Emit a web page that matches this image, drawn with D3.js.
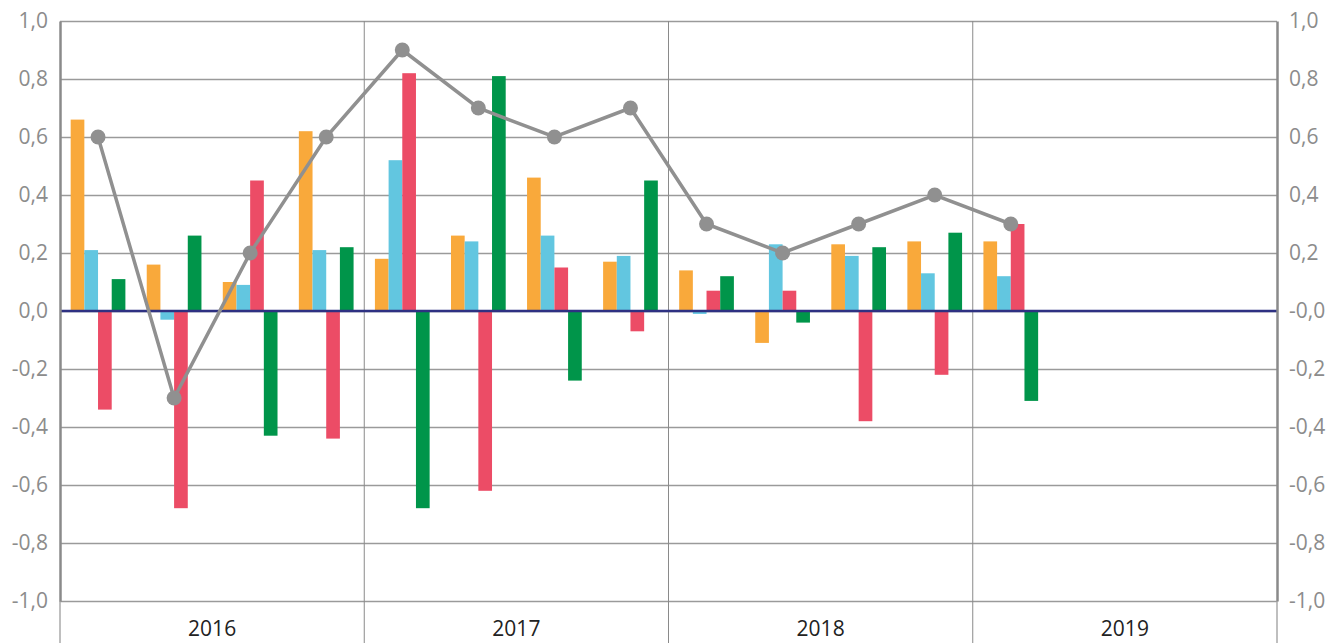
<!DOCTYPE html>
<html>
<head>
<meta charset="utf-8">
<script src="https://cdn.jsdelivr.net/npm/d3@7.9.0/dist/d3.min.js"></script>
<style>
  html, body { margin: 0; padding: 0; background: #fff; }
  svg { display: block; font-family: "Open Sans", sans-serif; }
</style>
</head>
<body>
<div id="chart"></div>
<script>
// ---------------- data ----------------
const years = ["2016", "2017", "2018", "2019"];
const quarters = d3.range(16);   // 4 quarters per year
const seriesNames = ["orange", "blue", "red", "green"];

const orangeVals = [0.66, 0.16, 0.10, 0.62, 0.18, 0.26, 0.46, 0.17, 0.14, -0.11, 0.23, 0.24, 0.24];
const blueVals   = [0.21, -0.03, 0.09, 0.21, 0.52, 0.24, 0.26, 0.19, -0.01, 0.23, 0.19, 0.13, 0.12];
const redVals    = [-0.34, -0.68, 0.45, -0.44, 0.82, -0.62, 0.15, -0.07, 0.07, 0.07, -0.38, -0.22, 0.30];
const greenVals  = [0.11, 0.26, -0.43, 0.22, -0.68, 0.81, -0.24, 0.45, 0.12, -0.04, 0.22, 0.27, -0.31];
const lineVals   = [0.6, -0.3, 0.2, 0.6, 0.9, 0.7, 0.6, 0.7, 0.3, 0.2, 0.3, 0.4, 0.3];

const yTicks = [1, 0.8, 0.6, 0.4, 0.2, 0, -0.2, -0.4, -0.6, -0.8, -1];
const leftLabels  = ["1,0", "0,8", "0,6", "0,4", "0,2", "0,0", "-0,2", "-0,4", "-0,6", "-0,8", "-1,0"];
const rightLabels = ["1,0", "0,8", "0,6", "0,4", "0,2", "-0,0", "-0,2", "-0,4", "-0,6", "-0,8", "-1,0"];

const colors = { orange: "#f9a93b", blue: "#62c6e0", red: "#ec4c66", green: "#00954a" };

// ---------------- layout ----------------
const W = 1341, H = 643;
const mLeft = 60, mRight = 1277, mTop = 21, mBottom = 601;

const svg = d3.select("#chart").append("svg").attr("width", W).attr("height", H);

const y = d3.scaleLinear().domain([-1, 1]).range([mBottom, mTop]);
const xYear = d3.scaleBand().domain(years).range([mLeft, mRight]);
const xQ = d3.scaleBand().domain(quarters).range([mLeft, mRight]);
const xS = d3.scaleBand().domain(seriesNames).range([0, xQ.bandwidth()]).paddingOuter(0.78);

// gridlines
svg.append("g").attr("class", "grid")
  .attr("transform", `translate(${mLeft},0)`)
  .call(d3.axisRight(y).tickValues(yTicks).tickSize(mRight - mLeft).tickFormat(""))
  .call(g => g.select(".domain").remove())
  .call(g => g.selectAll("line").attr("stroke", "#9a9a9a").attr("stroke-width", 1.5));

// year separators
svg.append("g").selectAll("line").data(years.slice(1)).enter().append("line")
  .attr("x1", d => xYear(d)).attr("x2", d => xYear(d))
  .attr("y1", mTop).attr("y2", H)
  .attr("stroke", "#8a8a8a").attr("stroke-width", 1);

// axis lines below plot (thin)
[mLeft, mRight].forEach(xx => {
  svg.append("line").attr("x1", xx).attr("x2", xx).attr("y1", mBottom).attr("y2", H)
    .attr("stroke", "#aaa").attr("stroke-width", 1.5);
});

// bars
const series = [orangeVals, blueVals, redVals, greenVals];
const barData = [];
series.forEach((vals, si) => {
  vals.forEach((v, qi) => barData.push({ q: qi, s: seriesNames[si], v: v }));
});

svg.append("g").selectAll("rect").data(barData).enter().append("rect")
  .attr("x", d => xQ(d.q) + xS(d.s))
  .attr("width", xS.bandwidth())
  .attr("y", d => y(Math.max(0, d.v)))
  .attr("height", d => Math.abs(y(d.v) - y(0)))
  .attr("fill", d => colors[d.s]);

// zero line
svg.append("line")
  .attr("x1", mLeft).attr("x2", mRight).attr("y1", y(0)).attr("y2", y(0))
  .attr("stroke", "#2e3182").attr("stroke-width", 2.5);

// left / right axes
svg.append("g").attr("transform", `translate(${mLeft},0)`)
  .call(d3.axisLeft(y).tickValues(yTicks).tickSize(0).tickPadding(12).tickFormat((d, i) => leftLabels[i]))
  .call(g => g.select(".domain").attr("stroke", "#8a8a8a").attr("stroke-width", 2.5))
  .call(g => g.selectAll("text").attr("fill", "#8c8c8c").attr("font-size", "21px").attr("font-family", "Open Sans"));

svg.append("g").attr("transform", `translate(${mRight},0)`)
  .call(d3.axisRight(y).tickValues(yTicks).tickSize(0).tickPadding(12).tickFormat((d, i) => rightLabels[i]))
  .call(g => g.select(".domain").attr("stroke", "#8a8a8a").attr("stroke-width", 2.5))
  .call(g => g.selectAll("text").attr("fill", "#8c8c8c").attr("font-size", "21px").attr("font-family", "Open Sans"));

// year labels
svg.append("g").selectAll("text").data(years).enter().append("text")
  .attr("x", d => xYear(d) + xYear.bandwidth() / 2)
  .attr("y", 636)
  .attr("text-anchor", "middle")
  .attr("font-size", "21px")
  .attr("fill", "#222")
  .text(d => d);

// line series
const line = d3.line()
  .x((d, i) => xQ(i) + xQ.bandwidth() / 2)
  .y(d => y(d));

svg.append("path").datum(lineVals)
  .attr("d", line)
  .attr("fill", "none")
  .attr("stroke", "#909090")
  .attr("stroke-width", 3.5);

svg.append("g").selectAll("circle").data(lineVals).enter().append("circle")
  .attr("cx", (d, i) => xQ(i) + xQ.bandwidth() / 2)
  .attr("cy", d => y(d))
  .attr("r", 7.5)
  .attr("fill", "#909090");
</script>
</body>
</html>
